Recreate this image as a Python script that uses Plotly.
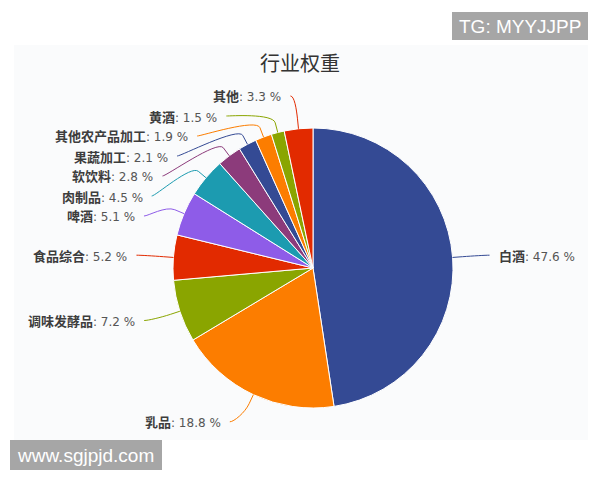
import math
import plotly.graph_objects as go

# 数据
categories = ["白酒", "乳品", "调味发酵品", "食品综合", "啤酒", "肉制品",
              "软饮料", "果蔬加工", "其他农产品加工", "黄酒", "其他"]
weights = [47.6, 18.8, 7.2, 5.2, 5.1, 4.5, 2.8, 2.1, 1.9, 1.5, 3.3]
palette = ["#344a94", "#fc7d00", "#8aa500", "#e22a00", "#8e5ce8", "#1c9bb0", "#8c3b7b"]
colors = [palette[i % len(palette)] for i in range(len(categories))]

# 页面有 8px 的 body 边距, 所以画布小一点, 坐标减掉偏移
OFF = 8
W, H = 600 - OFF, 480 - OFF
CX, CY, R = 313, 268, 140      # 饼图中心和半径 (屏幕像素)
LABEL_R = 170                  # 标签距离
X_R = 173
GAP = 20                       # 标签最小间距
FONT = "Noto Sans CJK SC"


def px(x):
    return (x - OFF) / W


def py(y):
    return 1 - (y - OFF) / H


def pt(theta, rad):
    return CX + rad * math.sin(theta), CY - rad * math.cos(theta)


# 计算每个扇区的角度和标签的自然位置
total = sum(weights)
slices = []
cum = 0
for i, v in enumerate(weights):
    mid = (cum + v / 2) / total
    cum += v
    theta = 2 * math.pi * mid
    side = 1 if math.sin(theta) > 0 else -1
    slices.append(dict(i=i, theta=theta, side=side,
                       y0=CY - LABEL_R * math.cos(theta)))

# 标签防重叠 (简单的聚类分布)
ymin, ymax = CY - LABEL_R - 2, CY + LABEL_R + 2
for side in (1, -1):
    items = sorted([s for s in slices if s["side"] == side], key=lambda s: s["y0"])
    clusters = []
    for s in items:
        clusters.append([s])
        while True:
            c = clusters[-1]
            start = sum(it["y0"] - GAP * k for k, it in enumerate(c)) / len(c)
            start = min(max(start, ymin), ymax - GAP * (len(c) - 1))
            if len(clusters) > 1:
                p = clusters[-2]
                if p[0]["y"] + GAP * len(p) > start:
                    clusters[-2] = p + c
                    clusters.pop()
                    continue
            for k, it in enumerate(c):
                it["y"] = start + GAP * k
            break

fig = go.Figure()
fig.add_trace(go.Pie(
    labels=categories,
    values=weights,
    sort=False,
    direction="clockwise",
    rotation=0,
    textinfo="none",
    hoverinfo="label+percent",
    marker=dict(colors=colors, line=dict(color="white", width=1)),
    domain=dict(x=[px(CX - R), px(CX + R)], y=[py(CY + R), py(CY - R)]),
    showlegend=False,
))

shapes = [
    # 图表背景
    dict(type="rect", xref="paper", yref="paper", layer="below",
         x0=px(14), x1=px(588), y0=py(440), y1=py(45),
         fillcolor="#fafbfc", line=dict(width=0)),
    # 水印框
    dict(type="rect", xref="paper", yref="paper",
         x0=px(452), x1=px(588), y0=py(40), y1=py(12),
         fillcolor="#a6a6a6", line=dict(width=0)),
    dict(type="rect", xref="paper", yref="paper",
         x0=px(10), x1=px(162), y0=py(470), y1=py(440),
         fillcolor="#a6a6a6", line=dict(width=0)),
]
annotations = []

for s in slices:
    i, side, y = s["i"], s["side"], s["y"]
    dy = y - CY
    ax = CX + side * math.sqrt(max(X_R ** 2 - dy ** 2, 0))
    ex, ey = pt(s["theta"], R)
    bx, by = pt(s["theta"], R + 10)
    kx, ky = pt(s["theta"], R + 20)
    sx = ax + side * 4
    path = "M {:.4f},{:.4f} C {:.4f},{:.4f} {:.4f},{:.4f} {:.4f},{:.4f} L {:.4f},{:.4f}".format(
        px(sx), py(y), px(ax), py(y), px(kx), py(ky), px(bx), py(by), px(ex), py(ey))
    shapes.append(dict(type="path", xref="paper", yref="paper", path=path,
                       line=dict(color=colors[i], width=1)))
    annotations.append(dict(
        x=px(ax + side * 11), y=py(y), xref="paper", yref="paper",
        text="<b>{}</b><span style='font-family:DejaVu Sans;font-size:12px;color:#555555'>: {} %</span>".format(
            categories[i], weights[i]),
        showarrow=False, xanchor="left" if side > 0 else "right", yanchor="middle",
        font=dict(family=FONT, size=13, color="#3d3d3d"),
    ))

annotations += [
    dict(x=px(300), y=py(62), xref="paper", yref="paper", text="行业权重",
         showarrow=False, xanchor="center", yanchor="middle",
         font=dict(family=FONT, size=20, color="#333333")),
    dict(x=px(520), y=py(26), xref="paper", yref="paper", text="TG: MYYJJPP",
         showarrow=False, xanchor="center", yanchor="middle",
         font=dict(family="Liberation Sans", size=19, color="white")),
    dict(x=px(86), y=py(455), xref="paper", yref="paper", text="www.sgjpjd.com",
         showarrow=False, xanchor="center", yanchor="middle",
         font=dict(family="Liberation Sans", size=19, color="white")),
]

fig.update_layout(
    width=W, height=H,
    margin=dict(l=0, r=0, t=0, b=0),
    paper_bgcolor="white",
    plot_bgcolor="white",
    shapes=shapes,
    annotations=annotations,
    font=dict(family=FONT),
)

fig.write_html("out.html")
